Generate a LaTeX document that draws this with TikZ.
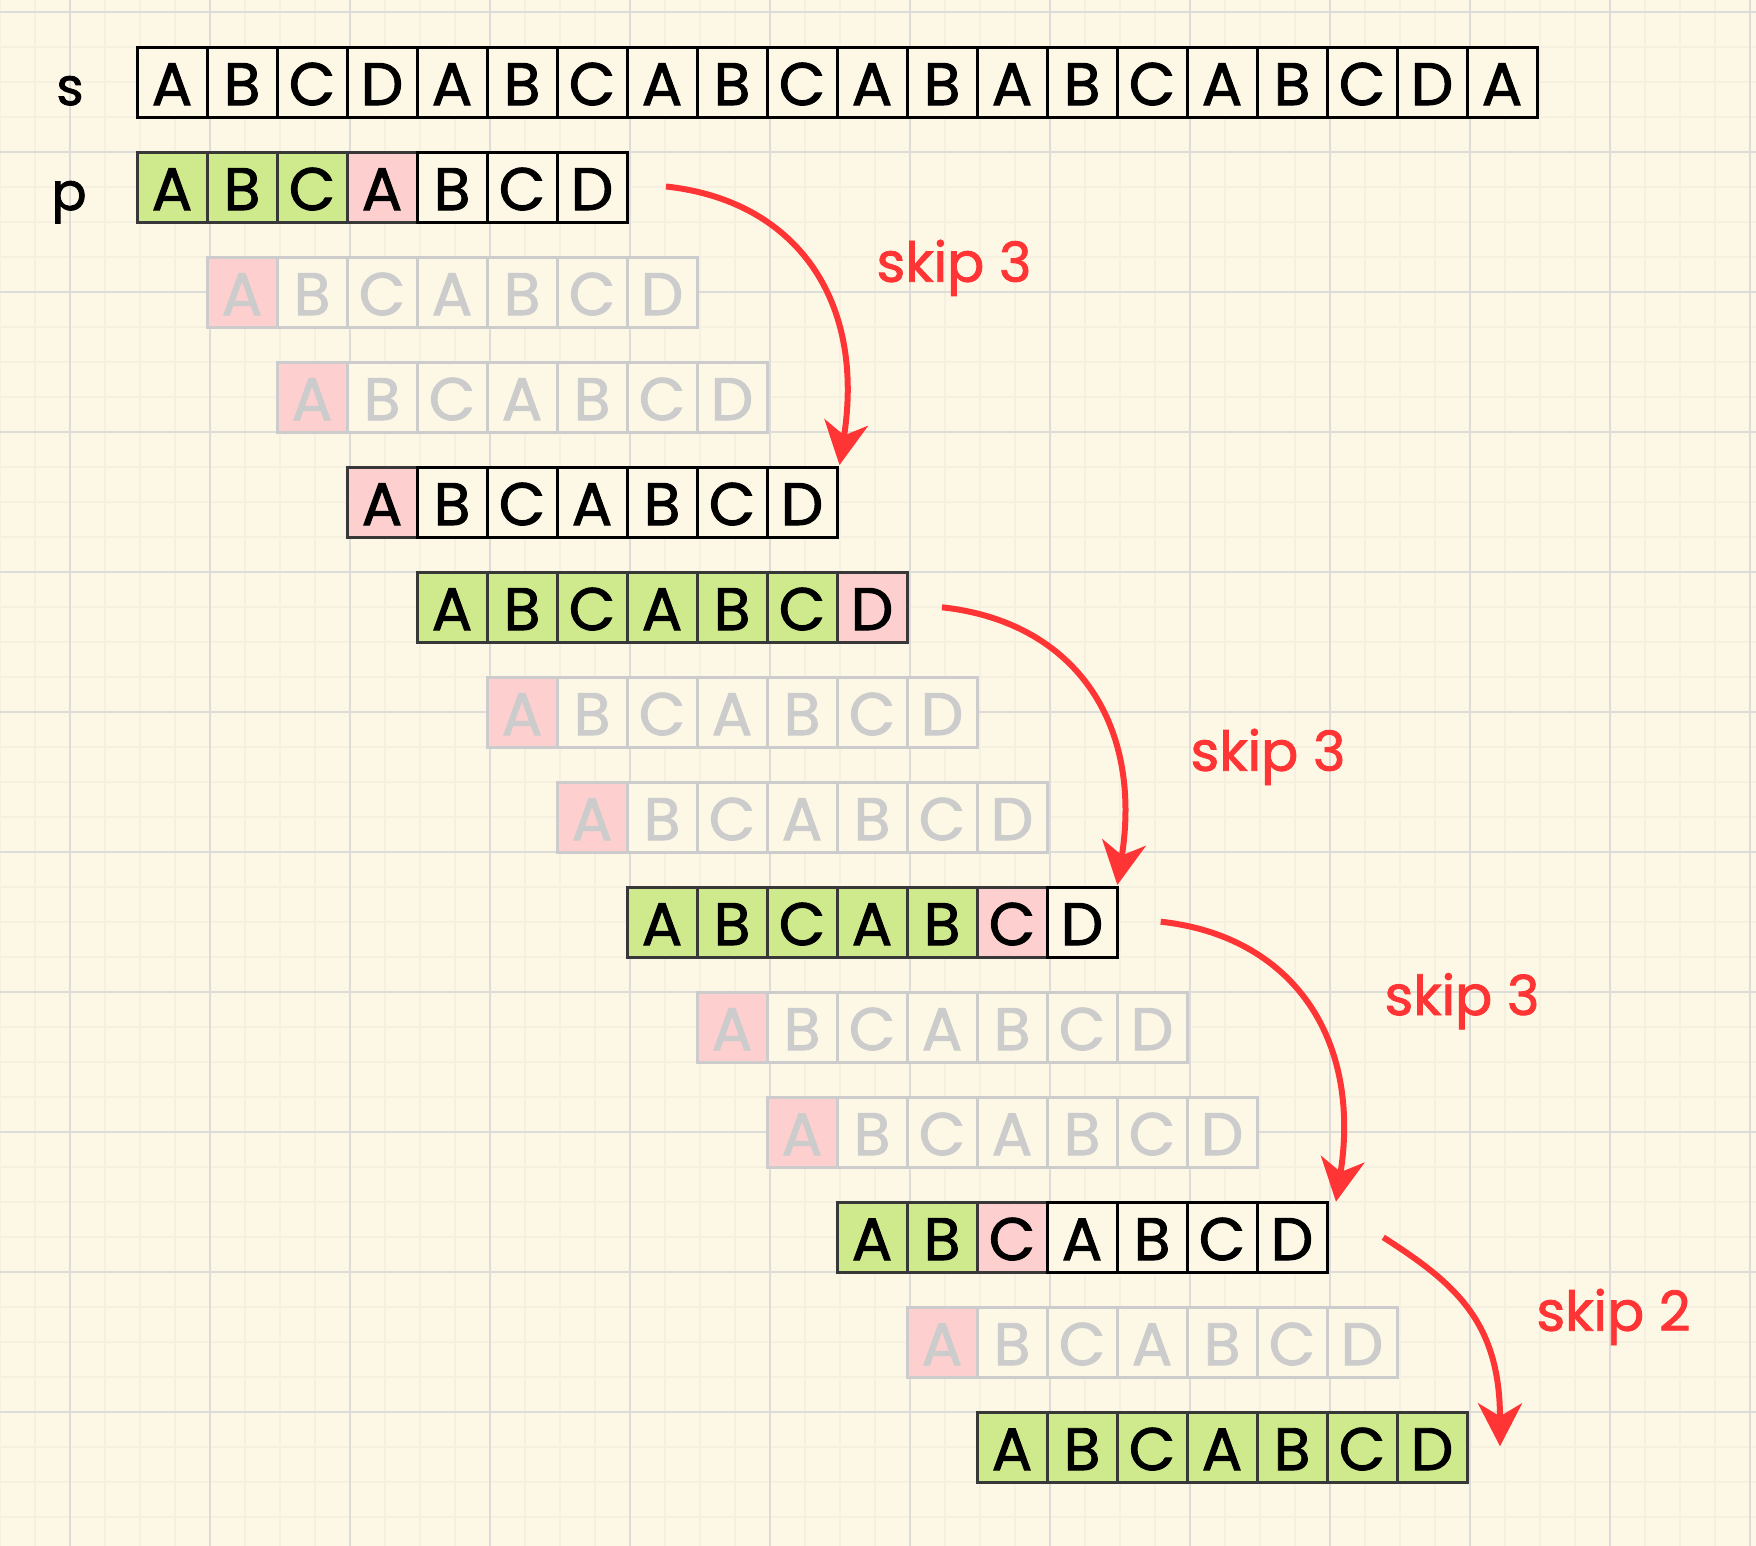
\documentclass[tikz,border=0pt]{standalone}
\usepackage{fontspec}
\setmainfont{Poppins}
\newfontfamily\boldish{Poppins}[FakeBold=1.6]
\usetikzlibrary{arrows.meta,calc}
\definecolor{bg}{HTML}{FDF8E5}
\definecolor{gmin}{HTML}{F5F0DF}
\definecolor{gmaj}{HTML}{DEDCD8}
\definecolor{cgreen}{HTML}{CFEA8C}
\definecolor{cpink}{HTML}{FDCFCF}
\definecolor{cfade}{HTML}{CCCCCC}
\definecolor{cdark}{HTML}{383838}
\definecolor{cred}{HTML}{FF3535}
\newcommand{\cellrow}[3]{%
  \foreach \L/\F [count=\j from 0] in {#3} {
    \node[\F] (r#1c\j) at ({137+70*(#2+\j)}, {47.3+105*#1}) {\L};
  }%
}
\newcommand{\fadedrow}[2]{%
  \cellrow{#1}{#2}{A/cellFR,B/cellFW,C/cellFW,A/cellFW,B/cellFW,C/cellFW,D/cellFW}%
}
\begin{document}
\begin{tikzpicture}[x=1pt,y=-1pt,
  cellbase/.style={line width=3pt, minimum size=70pt, inner sep=0pt, outer sep=0pt,
    anchor=north west, text height=45.5pt, text depth=0pt,
    font=\boldish\fontsize{60pt}{72pt}\selectfont},
  cellW/.style={cellbase, draw=black, fill=bg, text=black},
  cellG/.style={cellbase, draw=cdark, fill=cgreen, text=black},
  cellR/.style={cellbase, draw=cdark, fill=cpink, text=black},
  cellFW/.style={cellbase, draw=cfade, fill=bg, text=cfade},
  cellFR/.style={cellbase, draw=cfade, fill=cpink, text=cfade},
  rowlbl/.style={anchor=base, inner sep=0pt, font=\boldish\fontsize{52pt}{62pt}\selectfont, text=black},
  skiplbl/.style={anchor=base, inner sep=0pt, font=\boldish\fontsize{55pt}{66pt}\selectfont, text=cred},
  redarrow/.style={draw=cred, line width=6pt, -{Stealth[length=43pt, width=44pt, inset=13pt]}},
  minorgrid/.style={draw=gmin, line width=2pt},
  majorgrid/.style={draw=gmaj, line width=2pt}
]
\useasboundingbox (0,0) rectangle (1756,1546);
\fill[bg] (0,0) rectangle (1756,1546);
% grid
\foreach \k in {0,...,50} \draw[minorgrid] ({35*\k},0) -- ({35*\k},1546);
\foreach \k in {0,...,44} \draw[minorgrid] (0,{12.3+35*\k}) -- (1756,{12.3+35*\k});
\foreach \k in {0,...,12} \draw[majorgrid] ({70+140*\k},0) -- ({70+140*\k},1546);
\foreach \k in {0,...,10} \draw[majorgrid] (0,{12.3+140*\k}) -- (1756,{12.3+140*\k});

% labels
\node[rowlbl] (ls) at (70,105) {s};
\node[rowlbl] (lp) at (69,210) {p};

% rows
\cellrow{0}{0}{A/cellW,B/cellW,C/cellW,D/cellW,A/cellW,B/cellW,C/cellW,A/cellW,B/cellW,C/cellW,A/cellW,B/cellW,A/cellW,B/cellW,C/cellW,A/cellW,B/cellW,C/cellW,D/cellW,A/cellW}
\cellrow{1}{0}{A/cellG,B/cellG,C/cellG,A/cellR,B/cellW,C/cellW,D/cellW}
\fadedrow{2}{1}
\fadedrow{3}{2}
\cellrow{4}{3}{A/cellR,B/cellW,C/cellW,A/cellW,B/cellW,C/cellW,D/cellW}
\cellrow{5}{4}{A/cellG,B/cellG,C/cellG,A/cellG,B/cellG,C/cellG,D/cellR}
\fadedrow{6}{5}
\fadedrow{7}{6}
\cellrow{8}{7}{A/cellG,B/cellG,C/cellG,A/cellG,B/cellG,C/cellR,D/cellW}
\fadedrow{9}{8}
\fadedrow{10}{9}
\cellrow{11}{10}{A/cellG,B/cellG,C/cellR,A/cellW,B/cellW,C/cellW,D/cellW}
\fadedrow{12}{11}
\cellrow{13}{12}{A/cellG,B/cellG,C/cellG,A/cellG,B/cellG,C/cellG,D/cellG}

% arrow end points
\coordinate (a1s) at ($(r1c6.east)+(39,-0.8)$);
\coordinate (a1e) at ($(r4c6.north east)+(2.5,-2.3)$);
\coordinate (a2s) at ($(r5c6.east)+(35,0)$);
\coordinate (a2e) at ($(r8c6.north east)+(0.3,-2.3)$);
\coordinate (a3s) at ($(r8c6.east)+(43.7,-0.6)$);
\coordinate (a3e) at ($(r11c6.north east)+(9,-0.6)$);
\coordinate (a4s) at ($(r11c6.east)+(56.3,0)$);
\coordinate (a4e) at ($(r13c6.north east)+(33,34)$);

\draw[redarrow] (a1s) .. controls +(130,14) and +(26,-165) .. (a1e);
\draw[redarrow] (a2s) .. controls +(130,14) and +(26,-165) .. (a2e);
\draw[redarrow] (a3s) .. controls +(130,14) and +(26,-165) .. (a3e);
\draw[redarrow] (a4s) .. controls +(70,45) and +(0,-126) .. (a4e);

\node[skiplbl] (k1) at (954,281.7) {skip 3};
\node[skiplbl] (k2) at (1268,770.7) {skip 3};
\node[skiplbl] (k3) at (1462,1015) {skip 3};
\node[skiplbl] (k4) at (1613.5,1330.7) {skip 2};
\end{tikzpicture}
\end{document}
